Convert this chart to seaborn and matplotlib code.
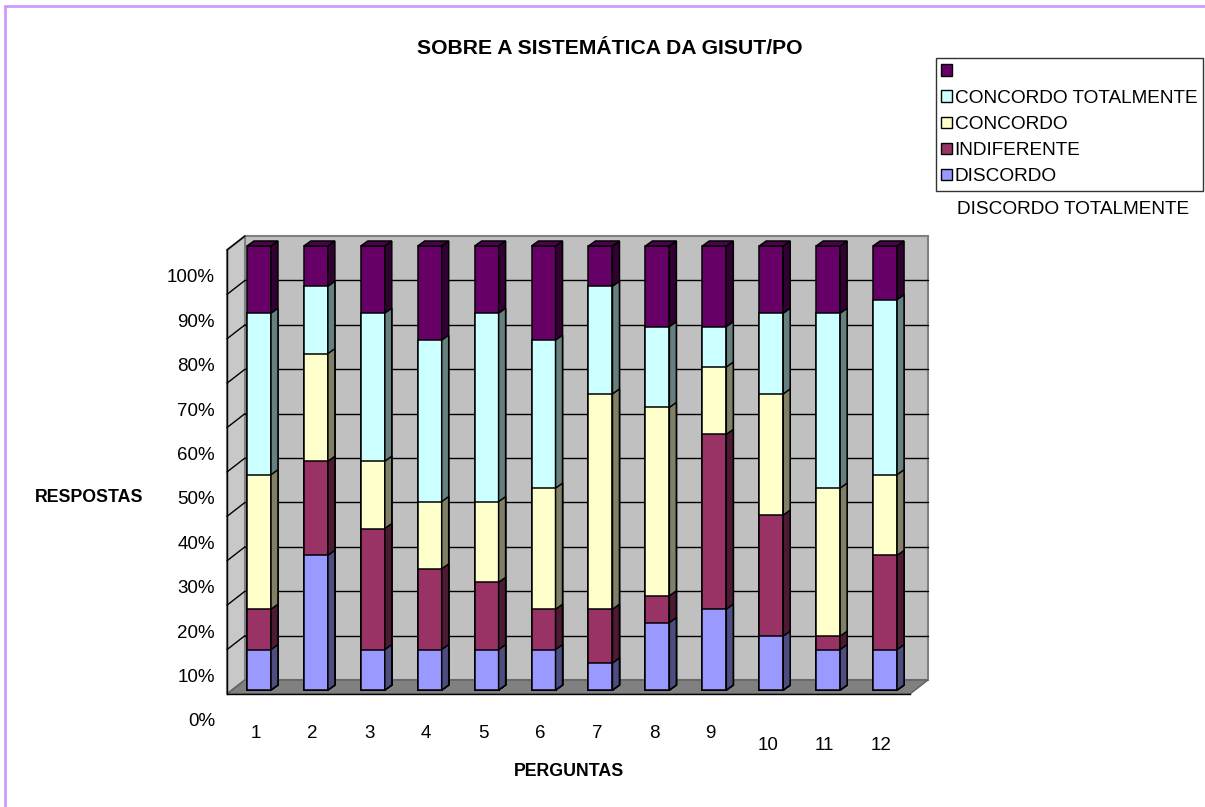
import matplotlib
matplotlib.use("Agg")
import numpy as np
import pandas as pd
import matplotlib.pyplot as plt
import seaborn as sns
from matplotlib.patches import Polygon, Rectangle, Patch
from matplotlib.lines import Line2D

# respostas por pergunta (contagens, 33 respondentes)
perguntas = [str(i) for i in range(1, 13)]
discordo = [3, 10, 3, 3, 3, 3, 2, 5, 6, 4, 3, 3]
indiferente = [3, 7, 9, 6, 5, 3, 4, 2, 13, 9, 1, 7]
concordo = [10, 8, 5, 5, 6, 9, 16, 14, 5, 9, 11, 6]
concordo_totalmente = [12, 5, 11, 12, 14, 11, 8, 6, 3, 6, 13, 13]
sem_rotulo = [5, 3, 5, 7, 5, 7, 3, 6, 6, 5, 5, 4]

series = ["DISCORDO", "INDIFERENTE", "CONCORDO", "CONCORDO TOTALMENTE", ""]
front_colors = ["#9999FF", "#993366", "#FFFFCC", "#CCFFFF", "#660066"]
side_colors = ["#4D4D80", "#4D1A33", "#808066", "#668080", "#330033"]
top_color = "#4D004D"
y_ticks = [i / 10 for i in range(11)]
y_labels = [f"{i * 10}%" for i in range(11)]

df = pd.DataFrame(
    {
        "DISCORDO": discordo,
        "INDIFERENTE": indiferente,
        "CONCORDO": concordo,
        "CONCORDO TOTALMENTE": concordo_totalmente,
        "": sem_rotulo,
    },
    index=perguntas,
)
shares = df.div(df.sum(axis=1), axis=0)
cum = shares.cumsum(axis=1)

sns.set_style("white")
plt.rcParams["font.family"] = ["Liberation Sans", "DejaVu Sans"]
plt.rcParams["text.color"] = "black"

W, H = 1205, 807
fig = plt.figure(figsize=(W / 100, H / 100), dpi=100)

# front plane of the 3D plot, in pixels (top-left origin)
left, right, top, bottom = 227, 910, 250, 694
ax = fig.add_axes([left / W, (H - bottom) / H, (right - left) / W, (bottom - top) / H])
ax.patch.set_visible(False)

n = len(perguntas)
ux = (right - left) / n  # px per category
uy = bottom - top  # px per 100%
wall_dx, wall_dy = 18 / ux, 14 / uy
bar_dx, bar_dy = 7 / ux, 5 / uy
shift_x, shift_y = 3.5 / ux, 4 / uy
bar_w = 24 / ux
x0, x1 = -0.5, n - 0.5

# back wall, left wall, floor
ax.add_patch(Rectangle((x0 + wall_dx, wall_dy), n, 1, facecolor="#C0C0C0",
                       edgecolor="#808080", lw=1.5, zorder=0.5, clip_on=False))
ax.add_patch(Polygon([(x0, 0), (x0 + wall_dx, wall_dy), (x0 + wall_dx, 1 + wall_dy), (x0, 1)],
                     facecolor="#C8C8C8", edgecolor="#808080", lw=1.5, zorder=0.6, clip_on=False))
for v in y_ticks[1:-1]:
    ax.plot([x0 + wall_dx, x1 + wall_dx], [v + wall_dy, v + wall_dy], color="black",
            lw=1, zorder=1, clip_on=False)
for v in y_ticks[1:]:
    ax.plot([x0, x0 + wall_dx], [v, v + wall_dy], color="black", lw=1, zorder=1, clip_on=False)
ax.add_patch(Polygon([(x0, 0), (x1, 0), (x1 + wall_dx, wall_dy), (x0 + wall_dx, wall_dy)],
                     facecolor="#808080", edgecolor="#606060", lw=1, zorder=1.2, clip_on=False))

# stacked bars: tallest cumulative first, shorter ones drawn on top
for z, idx in enumerate(reversed(range(len(series)))):
    name = series[idx]
    before = len(ax.patches)
    sns.barplot(x=perguntas, y=cum[name].values, color=front_colors[idx], saturation=1,
                width=bar_w, edgecolor="black", linewidth=1.1, zorder=3 + z, ax=ax)
    for p in ax.patches[before:]:
        p.set_x(p.get_x() + shift_x)
        p.set_y(p.get_y() + shift_y)
        xr = p.get_x() + p.get_width()
        yb, yt = p.get_y(), p.get_y() + p.get_height()
        ax.add_patch(Polygon([(xr, yb), (xr + bar_dx, yb + bar_dy), (xr + bar_dx, yt + bar_dy), (xr, yt)],
                             facecolor=side_colors[idx], edgecolor="black", lw=1.1,
                             zorder=3 + z, clip_on=False))
        if z == 0:
            xl = p.get_x()
            ax.add_patch(Polygon([(xl, yt), (xr, yt), (xr + bar_dx, yt + bar_dy), (xl + bar_dx, yt + bar_dy)],
                                 facecolor=top_color, edgecolor="black", lw=1.1,
                                 zorder=3 + z, clip_on=False))
        p.set_clip_on(False)

ax.set_xlim(x0, x1)
ax.set_ylim(0, 1)
for s in ["top", "right"]:
    ax.spines[s].set_visible(False)
for s in ["left", "bottom"]:
    ax.spines[s].set_color("black")
    ax.spines[s].set_linewidth(1)

ax.set_xticks(np.arange(x0, x1 + 0.01, 1))
ax.set_xticklabels([])
ax.set_yticks(y_ticks)
ax.set_yticklabels([])
ax.tick_params(axis="both", direction="out", length=6, width=1, color="black")
ax.set_xlabel("")
ax.set_ylabel("")

# Excel-style labels (shifted as in the original)
for v, lab in zip(y_ticks, y_labels):
    ax.text(-12 / (right - left), v - 0.063, lab, transform=ax.get_yaxis_transform(),
            ha="right", va="center", fontsize=13.5, color="black")
for i, lab in enumerate(perguntas):
    yy = -39 / uy if i < 9 else -52 / uy
    ax.text(i, yy, lab, transform=ax.get_xaxis_transform(), ha="center", va="center",
            fontsize=13.5, color="black")

fig.text(610 / W, 1 - 48 / H, "SOBRE A SISTEMÁTICA DA GISUT/PO", ha="center", va="center",
         fontsize=15.2, fontweight="bold", color="black")
fig.text(569 / W, 1 - 772 / H, "PERGUNTAS", ha="center", va="center", fontsize=12.8,
         fontweight="bold", color="black")
fig.text(143 / W, 1 - 498 / H, "RESPOSTAS", ha="right", va="center", fontsize=12.8,
         fontweight="bold", color="black")

# legend (top entry has no label, as in the original)
handles = [Patch(facecolor=front_colors[i], edgecolor="black", lw=1) for i in reversed(range(len(series)))]
labels = [series[i] for i in reversed(range(len(series)))]
leg = fig.legend(handles, labels, loc="upper right", bbox_to_anchor=(1203 / W, 1 - 58 / H),
                 frameon=True, fancybox=False, fontsize=13.7, handlelength=0.55, handleheight=0.55,
                 handletextpad=0.15, labelspacing=0.48, borderpad=0.3, borderaxespad=0)
leg.get_frame().set_edgecolor("black")
leg.get_frame().set_linewidth(1)
for t in leg.get_texts():
    t.set_color("black")
fig.text(1073 / W, 1 - 209 / H, "DISCORDO TOTALMENTE", ha="center", va="center",
         fontsize=13.7, color="black")

# chart area border (top and left visible)
fig.add_artist(Line2D([5 / W, 5 / W], [0, 1 - 6 / H], color="#CC99FF", lw=2))
fig.add_artist(Line2D([5 / W, 1], [1 - 6 / H, 1 - 6 / H], color="#CC99FF", lw=2))

fig.savefig("out.png", dpi=100)
